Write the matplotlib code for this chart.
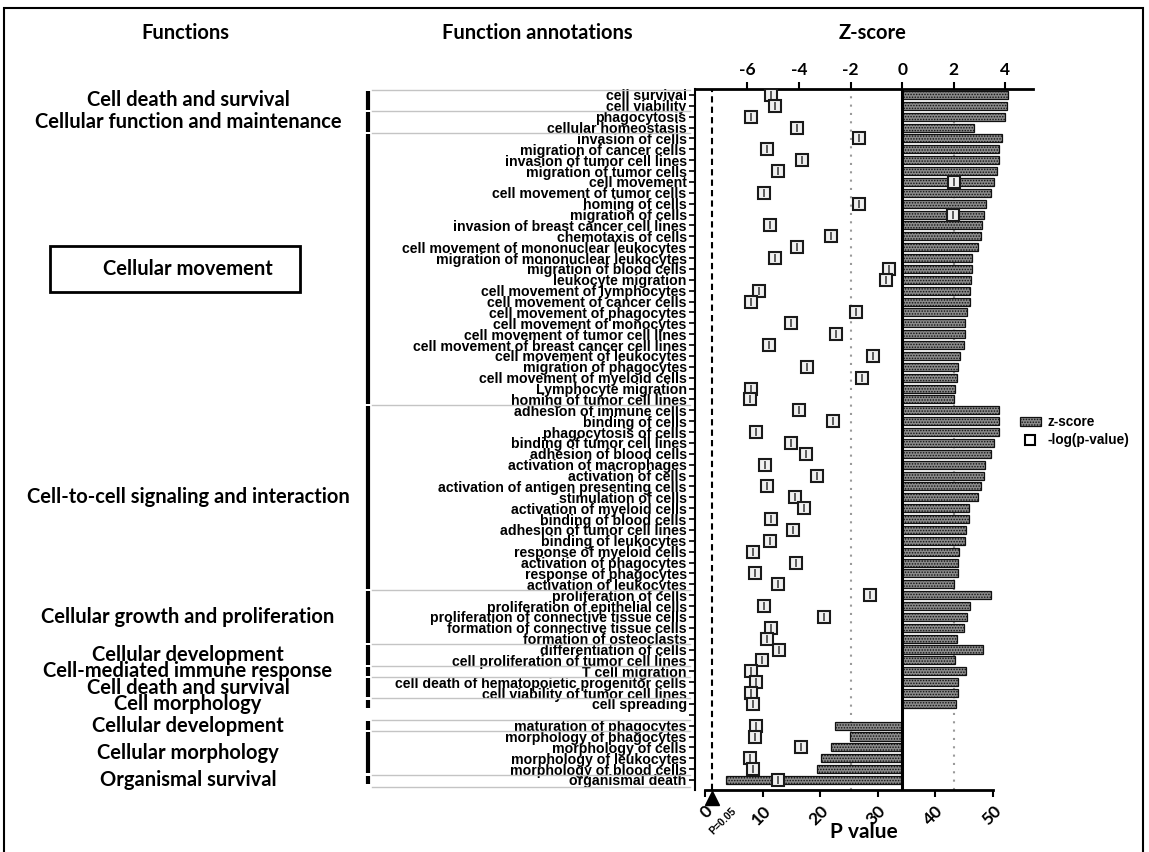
import numpy as np
import matplotlib
matplotlib.use("Agg")
import matplotlib.pyplot as plt
from matplotlib.patches import Rectangle, Patch
from matplotlib.lines import Line2D
from matplotlib.transforms import blended_transform_factory

# ---------------- data ----------------
annotations = [
    "cell survival", "cell viability", "phagocytosis", "cellular homeostasis",
    "invasion of cells", "migration of cancer cells", "invasion of tumor cell lines",
    "migration of tumor cells", "cell movement", "cell movement of tumor cells",
    "homing of cells", "migration of cells", "invasion of breast cancer cell lines",
    "chemotaxis of cells", "cell movement of mononuclear leukocytes",
    "migration of mononuclear leukocytes", "migration of blood cells",
    "leukocyte migration", "cell movement of lymphocytes", "cell movement of cancer cells",
    "cell movement of phagocytes", "cell movement of monocytes",
    "cell movement of tumor cell lines", "cell movement of breast cancer cell lines",
    "cell movement of leukocytes", "migration of phagocytes",
    "cell movement of myeloid cells", "Lymphocyte migration", "homing of tumor cell lines",
    "adhesion of immune cells", "binding of cells", "phagocytosis of cells",
    "binding of tumor cell lines", "adhesion of blood cells", "activation of macrophages",
    "activation of cells", "activation of antigen presenting cells", "stimulation of cells",
    "activation of myeloid cells", "binding of blood cells", "adhesion of tumor cell lines",
    "binding of leukocytes", "response of myeloid cells", "activation of phagocytes",
    "response of phagocytes", "activation of leukocytes", "proliferation of cells",
    "proliferation of epithelial cells", "proliferation of connective tissue cells",
    "formation of connective tissue cells", "formation of osteoclasts",
    "differentiation of cells", "cell proliferation of tumor cell lines", "T cell migration",
    "cell death of hematopoietic progenitor cells", "cell viability of tumor cell lines",
    "cell spreading", "", "maturation of phagocytes", "morphology of phagocytes",
    "morphology of cells", "morphology of leukocytes", "morphology of blood cells",
    "organismal death",
]

zscores = [
    4.11, 4.06, 3.98, 2.79, 3.88, 3.75, 3.75, 3.68, 3.55, 3.46,
    3.26, 3.17, 3.09, 3.04, 2.95, 2.72, 2.70, 2.66, 2.62, 2.62,
    2.52, 2.43, 2.43, 2.39, 2.24, 2.15, 2.11, 2.06, 2.02, 3.75,
    3.75, 3.75, 3.55, 3.46, 3.22, 3.17, 3.04, 2.95, 2.59, 2.59,
    2.47, 2.43, 2.20, 2.16, 2.16, 2.02, 3.46, 2.62, 2.53, 2.39,
    2.11, 3.12, 2.06, 2.47, 2.16, 2.16, 2.07, np.nan, -2.60, -2.03,
    -2.74, -3.15, -3.31, -6.83,
]

neg_log_p = [
    11.5, 12.2, 8.0, 15.9, 26.7, 10.8, 16.8, 12.7, 43.3, 10.2,
    26.7, 43.1, 11.2, 21.8, 15.9, 12.2, 31.9, 31.4, 9.4, 8.0,
    26.3, 14.9, 22.7, 11.1, 29.2, 17.7, 27.3, 8.0, 7.8, 16.3,
    22.2, 8.8, 14.9, 17.5, 10.5, 19.5, 10.8, 15.6, 17.1, 11.4,
    15.3, 11.2, 8.4, 15.8, 8.7, 12.7, 28.6, 10.3, 20.7, 11.5,
    10.7, 12.8, 9.9, 7.9, 8.9, 8.0, 8.3, np.nan, 8.85, 8.7,
    16.7, 7.8, 8.3, 12.6,
]

group_names = [
    "Cell death and survival", "Cellular function and maintenance", "Cellular movement",
    "Cell-to-cell signaling and interaction", "Cellular growth and proliferation",
    "Cellular development", "Cell-mediated immune response", "Cell death and survival",
    "Cell morphology", "Cellular development", "Cellular morphology", "Organismal survival",
]
group_first = [0, 2, 4, 29, 46, 51, 53, 54, 56, 58, 59, 63]
group_last = [1, 3, 28, 45, 50, 52, 53, 55, 56, 58, 62, 63]

z_ticks = [-6, -4, -2, 0, 2, 4]
p_ticks = [0, 10, 20, 30, 40, 50]
p_threshold = -np.log10(0.05)

# ---------------- figure ----------------
W, H = 1149, 852
fig = plt.figure(figsize=(W / 100, H / 100), dpi=100)
plt.rcParams["hatch.linewidth"] = 0.7
plt.rcParams["hatch.color"] = "#333333"


def fx(px):
    return px / W


def fy(py):
    return 1 - py / H


LAB = "Liberation Sans"
HEAD = "Lato"
BAR_FACE = "#8a8a8a"

ax = fig.add_axes([fx(695), fy(790), fx(1033) - fx(695), fy(89) - fy(790)])
ypos = np.arange(len(annotations))
z = np.array(zscores, dtype=float)
p = np.array(neg_log_p, dtype=float)

ax.set_ylim(len(annotations) - 0.08, -0.55)
ax.set_xlim(-8.03, 5.07)

m = ~np.isnan(z)
ax.barh(ypos[m], z[m], height=0.74, color=BAR_FACE, edgecolor="#111111",
        hatch="......", linewidth=0.9, zorder=3)
ax.axvline(0, color="black", lw=2.2, zorder=5)
for zt in (-2, 2):
    ax.axvline(zt, color="#9a9a9a", ls=(0, (1, 3)), lw=1.5, zorder=1)

ax2 = ax.twiny()
ax2.set_xlim(-1.736, 56.94)
ax2.axvline(p_threshold, color="black", ls=(0, (3, 2)), lw=1.5, zorder=2)
mp = ~np.isnan(p)
ax2.plot(p[mp], ypos[mp], ls="none", marker="s", ms=8, mfc="#f0f0f0",
         mec="#1a1a1a", mew=1.5, zorder=6)
ax2.plot(p[mp], ypos[mp], ls="none", marker="|", ms=5.5, mec="#333333",
         mew=1.1, zorder=7)

# axes styling
ax.xaxis.set_ticks_position("top")
ax.set_xticks(z_ticks)
ax.set_xticklabels([str(t) for t in z_ticks], fontfamily=HEAD, fontweight="bold",
                   fontsize=12.5)
ax.tick_params(axis="x", which="major", direction="out", length=5, width=1.5, pad=3)
ax.spines["top"].set_linewidth(2)
ax.spines["bottom"].set_visible(False)
ax.spines["right"].set_visible(False)
ax.spines["left"].set_linewidth(1.5)
ax.set_yticks(ypos)
ax.set_yticklabels(annotations, fontfamily=LAB, fontweight="bold", fontsize=10.2)
ax.tick_params(axis="y", direction="out", length=4, width=1.2, pad=2)

ax2.xaxis.set_ticks_position("bottom")
ax2.xaxis.set_label_position("bottom")
ax2.spines["top"].set_visible(False)
ax2.spines["right"].set_visible(False)
ax2.spines["left"].set_visible(False)
ax2.spines["bottom"].set_visible(True)
ax2.spines["bottom"].set_linewidth(2)
ax2.spines["bottom"].set_bounds(0, 50)
ax2.set_xticks(p_ticks)
ax2.set_xticklabels([str(t) for t in p_ticks], fontfamily=HEAD, fontweight="bold",
                    fontsize=12.5, rotation=45, ha="right", rotation_mode="anchor")
ax2.tick_params(axis="x", direction="out", length=5, width=1.5, pad=4)
ax2.set_xlabel("P value", fontfamily=HEAD, fontweight="bold", fontsize=15, labelpad=-4)

# threshold marker
tr = blended_transform_factory(ax2.transData, ax2.transAxes)
ax2.plot([p_threshold], [-0.011], marker="^", ms=10, color="black",
         transform=tr, clip_on=False, zorder=8)
fig.text(fx(731), fy(806), "P=0.05", rotation=45, ha="right", va="top",
         rotation_mode="anchor", fontsize=7.5, fontweight="bold", fontfamily=LAB)

# headers
for xc, txt in ((185, "Functions"), (537, "Function annotations"), (873, "Z-score")):
    fig.text(fx(xc), fy(33), txt, ha="center", va="center", fontsize=14.5,
             fontweight="bold", fontfamily=HEAD)

# group annotations on the left
gtr = blended_transform_factory(fig.transFigure, ax.transData)
for name, a, b in zip(group_names, group_first, group_last):
    ax.plot([fx(368), fx(368)], [a - 0.4, b + 0.4], color="black", lw=3,
            transform=gtr, clip_on=False, solid_capstyle="butt")
    ax.plot([fx(372), fx(690)], [a - 0.5, a - 0.5], color="#c4c4c4", lw=1.0,
            transform=gtr, clip_on=False)
    ax.text(fx(188), (a + b) / 2, name, transform=gtr, ha="center", va="center",
            fontsize=14.5, fontweight="bold", fontfamily=HEAD)
    if name == "Cellular movement":
        yc = (a + b) / 2
        ax.add_patch(Rectangle((fx(50), yc - 2.15), fx(300) - fx(50), 4.3,
                               transform=gtr, fill=False, lw=2, ec="black",
                               clip_on=False))
ax.plot([fx(372), fx(690)], [group_last[-1] + 0.6] * 2, color="#c4c4c4", lw=1.0,
        transform=gtr, clip_on=False)

# legend
handles = [
    Patch(facecolor=BAR_FACE, edgecolor="#111111", hatch="......", lw=0.9,
          label="z-score"),
    Line2D([], [], ls="none", marker="s", ms=7, mfc="white", mec="black", mew=1.5,
           label="-log(p-value)"),
]
fig.legend(handles=handles, loc="upper left",
           bbox_to_anchor=(fx(1008), fy(403)), frameon=False,
           prop={"family": LAB, "weight": "bold", "size": 9.8},
           handlelength=1.5, handletextpad=0.5, labelspacing=0.3)

# outer frame
fig.add_artist(Rectangle((fx(4), fy(870)), fx(1143) - fx(4), fy(8) - fy(870),
                         transform=fig.transFigure, fill=False, lw=1.5,
                         ec="black", clip_on=False))

fig.savefig("out.png", dpi=100)
